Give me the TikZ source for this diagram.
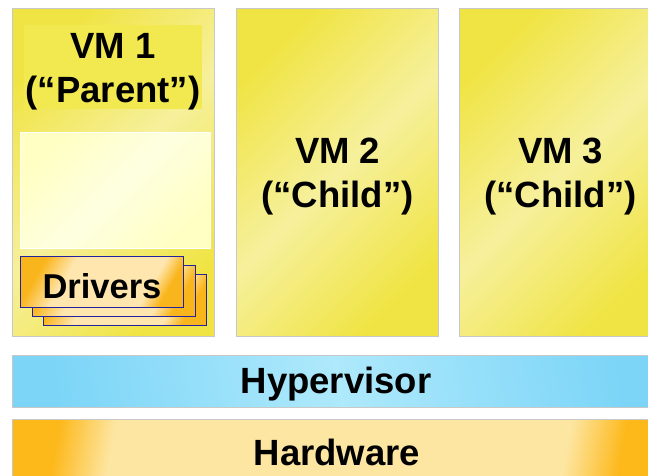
\documentclass[tikz,border=0pt]{standalone}
\usepackage{fontspec}
\setmainfont{Liberation Sans}
\definecolor{vmdark}{HTML}{F0E444}
\definecolor{vmlight}{HTML}{F6F09C}
\definecolor{band}{HTML}{F2E850}
\definecolor{innerA}{HTML}{FFFFC4}
\definecolor{innerB}{HTML}{FEFFE0}
\definecolor{orngA}{HTML}{F9B51C}
\definecolor{orngB}{HTML}{FFE6AE}
\definecolor{blueA}{HTML}{7CD5F7}
\definecolor{blueB}{HTML}{AEE9FC}
\definecolor{hwA}{HTML}{FDB81A}
\definecolor{hwB}{HTML}{FDE6A2}
\definecolor{frame}{HTML}{C8C8C8}
\definecolor{drvline}{HTML}{2222A0}
\pgfdeclareverticalshading{hwshade}{100bp}{color(0bp)=(hwA); color(25bp)=(hwA); color(30bp)=(hwB); color(70bp)=(hwB); color(75bp)=(hwA); color(100bp)=(hwA)}
\pgfdeclareverticalshading{drvshade}{100bp}{color(0bp)=(orngA); color(25bp)=(orngA); color(32bp)=(orngB); color(64bp)=(orngB); color(75bp)=(orngA); color(100bp)=(orngA)}
\tikzset{
  lbl/.style={font=\bfseries\fontsize{36.5}{44}\selectfont, align=center, text=black},
  box/.style={draw=frame, line width=1.2pt, anchor=north west, inner sep=0pt},
  vmbox/.style={box, left color=vmdark, right color=vmdark, middle color=vmlight, shading angle=45},
  drvbox/.style={draw=drvline, line width=1.3pt, anchor=north west, inner sep=0pt,
     shading=drvshade, shading angle=60},
}
\begin{document}
\begin{tikzpicture}[x=1pt,y=-1pt]
\clip (0,0) rectangle (648,475);
\fill[white] (0,0) rectangle (648,475);
% VM boxes
\node[vmbox, minimum width=202pt, minimum height=328pt] (vm1) at (12,8) {};
\node[vmbox, minimum width=202pt, minimum height=328pt] (vm2) at (236,8) {};
\node[vmbox, minimum width=202pt, minimum height=328pt] (vm3) at (459,8) {};
% VM1 internals
\node[anchor=north west, fill=band, minimum width=178pt, minimum height=84pt, inner sep=0pt] (band) at (24,25) {};
\node[lbl] (vm1t) at (113,72) {VM 1\\(“Parent”)};
\node[draw=white, line width=1.2pt, anchor=north west, inner sep=0pt, minimum width=190pt, minimum height=116pt,
      left color=innerA, right color=innerA, middle color=innerB, shading angle=45] (inner) at (20,132) {};
\node[drvbox, minimum width=163pt, minimum height=51pt] (drv3) at (43,274) {};
\node[drvbox, minimum width=163pt, minimum height=51pt] (drv2) at (32,265) {};
\node[drvbox, minimum width=163pt, minimum height=51pt] (drv) at (20,256) {};
\node[lbl, font=\bfseries\fontsize{34.5}{40}\selectfont] (drvt) at (102,286) {Drivers};
% VM2, VM3 labels
\node[lbl] (vm2t) at ([yshift=-4pt]vm2.center) {VM 2\\(“Child”)};
\node[lbl] (vm3t) at ([yshift=-4pt]vm3.center) {VM 3\\(“Child”)};
% Hypervisor
\node[box, minimum width=650pt, minimum height=52pt,
      left color=blueA, right color=blueA, middle color=blueB, shading angle=100] (hyp) at (12,355) {};
\node[lbl, font=\bfseries\fontsize{36.5}{43}\selectfont] (hypt) at (336,384) {Hypervisor};
% Hardware
\node[box, minimum width=650pt, minimum height=70pt,
      shading=hwshade, shading angle=80] (hw) at (12,419) {};
\node[lbl, font=\bfseries\fontsize{36.5}{43}\selectfont] (hwt) at (337,452) {Hardware};
\end{tikzpicture}
\end{document}
